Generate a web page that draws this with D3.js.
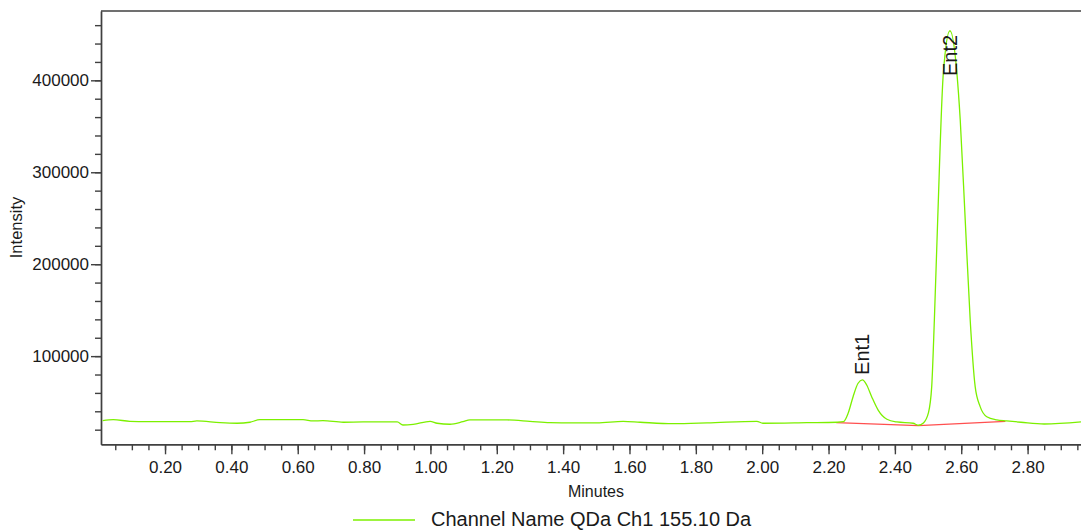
<html>
  <head>
    <script src="https://d3js.org/d3.v7.min.js"></script>
    <style>
      body { margin: 0; background: white; }
      text { font-family: Arial, "Liberation Sans", sans-serif; fill: #1a1a1a; }
      .axis path, .axis line { stroke: #404040; stroke-width: 1.4; }
    </style>
  </head>
  <body>
    <script>
      // chromatogram trace (minutes, intensity)
      var times = [0.012, 0.044, 0.094, 0.146, 0.215, 0.275, 0.296, 0.366, 0.417, 0.456,
        0.486, 0.616, 0.646, 0.676, 0.737, 0.797, 0.900, 0.917, 0.948, 0.999,
        1.020, 1.059, 1.098, 1.119, 1.231, 1.300, 1.360, 1.430, 1.502, 1.581,
        1.632, 1.731, 1.834, 1.984, 2.002, 2.135, 2.226, 2.245, 2.259, 2.274,
        2.289, 2.302, 2.315, 2.330, 2.350, 2.376, 2.406, 2.455, 2.471, 2.486,
        2.501, 2.511, 2.519, 2.529, 2.546, 2.566, 2.587, 2.597, 2.612, 2.627,
        2.642, 2.657, 2.677, 2.707, 2.737, 2.780, 2.850, 2.961];
      var intensities = [29800, 30900, 29100, 28700, 28700, 28700, 29500, 27600, 27000, 28100,
        30900, 30900, 29500, 29800, 28100, 28400, 28400, 25100, 25800, 29100,
        27000, 25900, 28700, 30600, 30600, 29100, 27600, 27300, 27300, 29100,
        28100, 26500, 27300, 29100, 27000, 27600, 28100, 28700, 37800, 55900,
        70500, 74100, 68600, 55900, 41000, 31300, 28400, 27000, 24800, 27300,
        38200, 66800, 139300, 248100, 407600, 453900, 407600, 356800, 248100, 139300,
        66800, 45100, 34100, 30600, 29500, 28100, 26200, 28400];

      // integration baseline
      var baselineTimes = [2.223, 2.471, 2.733];
      var baselineValues = [27600, 24400, 29100];

      // peak labels
      var peakNames = ["Ent1", "Ent2"];
      var peakTimes = [2.302, 2.566];
      var peakHeights = [74100, 453900];

      var xMajorTicks = [0.2, 0.4, 0.6, 0.8, 1.0, 1.2, 1.4, 1.6, 1.8, 2.0, 2.2, 2.4, 2.6, 2.8];
      var yMajorTicks = [100000, 200000, 300000, 400000];

      var seriesName = "Channel Name QDa Ch1 155.10 Da";
      var lineColor = "#7cf000";

      var width = 1081;
      var height = 531;
      var plotLeft = 101, plotRight = 1081, plotTop = 11, plotBottom = 444.3;

      var svg = d3.select("body").append("svg")
        .attr("width", width)
        .attr("height", height);

      var x = d3.scaleLinear().domain([0.007, 2.961]).range([plotLeft, plotRight]);
      var y = d3.scaleLinear().domain([4100, 475400]).range([plotBottom, plotTop]);

      // minor ticks
      var xMinor = d3.range(0.05, 2.96, 0.05);
      var yMinor = d3.range(20000, 475000, 20000);

      svg.append("g")
        .attr("class", "axis")
        .attr("transform", "translate(0," + plotBottom + ")")
        .call(d3.axisBottom(x).tickValues(xMinor).tickSize(6).tickSizeOuter(0).tickFormat(""));
      svg.append("g")
        .attr("class", "axis")
        .attr("transform", "translate(" + plotLeft + ",0)")
        .call(d3.axisLeft(y).tickValues(yMinor).tickSize(6).tickSizeOuter(0).tickFormat(""));

      // major ticks with labels
      svg.append("g")
        .attr("class", "axis")
        .attr("transform", "translate(0," + plotBottom + ")")
        .call(d3.axisBottom(x).tickValues(xMajorTicks).tickSize(10).tickSizeOuter(0)
          .tickPadding(7).tickFormat(d3.format(".2f")));
      svg.append("g")
        .attr("class", "axis")
        .attr("transform", "translate(" + plotLeft + ",0)")
        .call(d3.axisLeft(y).tickValues(yMajorTicks).tickSize(10).tickSizeOuter(0)
          .tickPadding(2).tickFormat(d3.format("d")));
      svg.selectAll(".axis text")
        .attr("font-size", "17px")
        .attr("font-family", "Arial, 'Liberation Sans', sans-serif")
        .attr("fill", "#1a1a1a");

      // top frame line
      svg.append("line")
        .attr("x1", plotLeft).attr("x2", plotRight)
        .attr("y1", plotTop).attr("y2", plotTop)
        .attr("stroke", "#404040")
        .attr("stroke-width", 1.4);

      // axis titles
      svg.append("text")
        .attr("x", 596)
        .attr("y", 497)
        .attr("text-anchor", "middle")
        .attr("font-size", "16px")
        .text("Minutes");
      svg.append("text")
        .attr("transform", "translate(22,227.5) rotate(-90)")
        .attr("text-anchor", "middle")
        .attr("font-size", "16.5px")
        .text("Intensity");

      var plot = svg.append("g");

      // baseline in red
      var baseData = baselineTimes.map(function (t, i) { return [t, baselineValues[i]]; });
      plot.append("path")
        .datum(baseData)
        .attr("fill", "none")
        .attr("stroke", "#ff5050")
        .attr("stroke-width", 1.3)
        .attr("d", d3.line().x(d => x(d[0])).y(d => y(d[1])));

      // trace
      var traceData = times.map(function (t, i) { return [t, intensities[i]]; });
      plot.append("path")
        .datum(traceData)
        .attr("fill", "none")
        .attr("stroke", lineColor)
        .attr("stroke-width", 1.3)
        .attr("d", d3.line().x(d => x(d[0])).y(d => y(d[1])).curve(d3.curveMonotoneX));

      // peak labels, kept inside the frame
      peakNames.forEach(function (name, i) {
        var px = x(peakTimes[i]) + 7;
        var py = Math.max(y(peakHeights[i]) - 5, plotTop + 65);
        svg.append("text")
          .attr("transform", "translate(" + px + "," + py + ") rotate(-90)")
          .attr("font-size", "20px")
          .text(name);
      });

      // legend
      svg.append("line")
        .attr("x1", 353).attr("x2", 415)
        .attr("y1", 520).attr("y2", 520)
        .attr("stroke", lineColor)
        .attr("stroke-width", 1.3);
      svg.append("text")
        .attr("x", 431)
        .attr("y", 525.5)
        .attr("font-size", "20px")
        .text(seriesName);
    </script>
  </body>
</html>
